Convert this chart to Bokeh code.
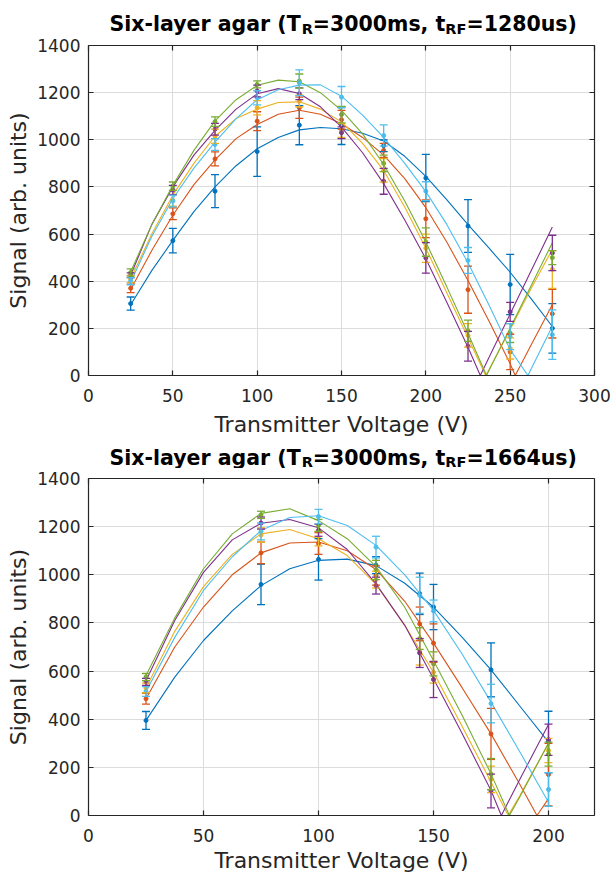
from bokeh.plotting import figure
from bokeh.models import (Range1d, LinearAxis, FixedTicker, Whisker, TeeHead,
                          ColumnDataSource, Label)
from bokeh.layouts import column
from bokeh.embed import file_html
from bokeh.resources import INLINE

# ---------------- data ----------------
SERIES_COLORS = ["#0072BD", "#D95319", "#EDB120", "#7E2F8E", "#77AC30", "#4DBEEE"]

# Panel 1: t_RF = 1280 us
P1_VOLTAGE = [25, 50, 75, 100, 125, 150, 175, 200, 225, 250, 275]
P1_S1 = [305, 572, 782, 950, 1062, 1060, 975, 838, 634, 386, 200]
P1_S1_ERR = [28, 52, 70, 105, 83, 80, 25, 100, 112, 128, 105]
P1_S2 = [370, 686, 919, 1079, 1136, 1085, 955, 665, 364, 100, 262]
P1_S2_ERR = [18, 25, 30, 40, 45, 40, 30, 80, 100, 75, 103]
P1_S3 = [410, 743, 1015, 1136, 1164, 1040, 870, 540, 170, 115, 450]
P1_S3_ERR = [15, 25, 30, 30, 25, 30, 50, 60, 50, 45, 80]
P1_S4 = [425, 787, 1045, 1207, 1195, 1030, 824, 499, 124, 270, 520]
P1_S4_ERR = [10, 20, 25, 25, 25, 25, 55, 65, 63, 40, 75]
P1_S5 = [437, 803, 1077, 1235, 1249, 1107, 900, 566, 190, 180, 500]
P1_S5_ERR = [15, 18, 20, 15, 30, 35, 35, 60, 45, 40, 30]
P1_S6 = [400, 740, 980, 1178, 1242, 1181, 1018, 782, 488, 165, 173]
P1_S6_ERR = [15, 25, 25, 30, 55, 45, 45, 40, 55, 55, 105]

# fitted curves, panel 1 (read at 12.5 V steps) and voltage of each curve's null
P1_FIT_V = [25, 37.5, 50, 62.5, 75, 87.5, 100, 112.5, 125, 137.5, 150, 162.5,
            175, 187.5, 200, 212.5, 225, 237.5, 250, 262.5, 275]
P1_FIT1 = [300, 445, 573, 695, 800, 890, 962, 1010, 1042, 1052, 1047, 1028,
           995, 930, 845, 745, 640, 540, 438, 325, 208]
P1_FIT2 = [365, 530, 680, 810, 915, 1005, 1065, 1108, 1125, 1108, 1068, 1010,
           935, 835, 712, 565, 403, 230, 50, 130, 300]
P1_FIT3 = [410, 600, 765, 900, 1015, 1090, 1130, 1158, 1161, 1130, 1076, 985,
           870, 715, 540, 350, 160, 25, 195, 370, 535]
P1_FIT4 = [425, 640, 800, 935, 1040, 1130, 1195, 1217, 1196, 1140, 1054, 945,
           814, 660, 495, 310, 120, 77, 261, 445, 630]
P1_FIT5 = [440, 640, 807, 955, 1080, 1170, 1231, 1253, 1246, 1200, 1125, 1025,
           895, 740, 566, 375, 178, 22, 202, 382, 563]
P1_FIT6 = [395, 590, 750, 880, 990, 1090, 1170, 1212, 1232, 1233, 1185, 1105,
           1010, 900, 780, 640, 478, 298, 110, 29, 209]
P1_NULLS = [None, 253, 235.5, 232.3, 236, 260.5]

# Panel 2: t_RF = 1664 us
P2_VOLTAGE = [25, 75, 100, 125, 144, 150, 175, 200]
P2_S1 = [395, 960, 1064, 1040, 921, 866, 605, 305]
P2_S1_ERR = [37, 84, 86, 35, 86, 94, 112, 128]
P2_S2 = [485, 1091, 1130, 997, 796, 716, 339, 170]
P2_S2_ERR = [22, 45, 45, 40, 70, 80, 106, 130]
P2_S3 = [530, 1165, 1150, 980, 680, 595, 150, 270]
P2_S3_ERR = [20, 30, 30, 35, 55, 45, 55, 50]
P2_S4 = [555, 1215, 1185, 955, 675, 565, 102, 315]
P2_S4_ERR = [15, 25, 25, 35, 60, 75, 70, 65]
P2_S5 = [575, 1249, 1205, 1020, 735, 630, 172, 255]
P2_S5_ERR = [15, 15, 25, 40, 45, 50, 65, 50]
P2_S6 = [515, 1180, 1242, 1115, 915, 850, 465, 108]
P2_S6_ERR = [20, 35, 30, 45, 75, 45, 80, 70]

P2_FIT_V = [25, 37.5, 50, 62.5, 75, 87.5, 100, 112.5, 125, 137.5, 150, 162.5,
            175, 187.5, 200]
P2_FIT1 = [395, 575, 727, 850, 955, 1025, 1060, 1065, 1038, 965, 866, 740, 605, 455, 305]
P2_FIT2 = [485, 700, 866, 1000, 1091, 1132, 1136, 1100, 1022, 890, 716, 530, 339, 130, 70]
P2_FIT3 = [530, 765, 951, 1085, 1170, 1188, 1150, 1080, 960, 790, 595, 370, 139, 82, 300]
P2_FIT4 = [560, 810, 1010, 1145, 1214, 1230, 1195, 1105, 962, 790, 568, 340, 104, 150, 378]
P2_FIT5 = [582, 820, 1025, 1170, 1255, 1274, 1225, 1150, 1034, 865, 644, 415, 173, 77, 300]
P2_FIT6 = [515, 740, 935, 1075, 1184, 1238, 1245, 1205, 1122, 1000, 852, 670, 471, 265, 55]
P2_NULLS = [None, 195, 182.5, 179.5, 183, None]

Y_TICKS = [0, 200, 400, 600, 800, 1000, 1200, 1400]
P1_X_TICKS = [0, 50, 100, 150, 200, 250, 300]
P2_X_TICKS = [0, 50, 100, 150, 200]

TITLE_MAIN = "Six-layer agar (T"
TITLE_SUB1 = "R"
TITLE_MID = "=3000ms, t"
TITLE_SUB2 = "RF"
P1_TITLE_END = "=1280us)"
P2_TITLE_END = "=1664us)"
X_LABEL = "Transmitter Voltage (V)"
Y_LABEL = "Signal (arb. units)"

FONT = "DejaVu Sans"
DARK = "#262626"
LEFT, RIGHT = 88, 20


def style_axis(ax, ticks, show_labels):
    ax.ticker = FixedTicker(ticks=ticks)
    ax.axis_line_color = DARK
    ax.axis_line_width = 1.2
    ax.major_tick_line_color = DARK
    ax.major_tick_line_width = 1.2
    ax.major_tick_in = 5
    ax.major_tick_out = 0
    ax.minor_tick_line_color = None
    ax.major_label_text_font = FONT
    ax.major_label_text_color = DARK
    if show_labels:
        ax.major_label_text_font_size = "17px"
    else:
        ax.major_label_text_font_size = "1px"
        ax.major_label_text_color = None
        ax.major_label_standoff = 0


def make_title(height, base_y, sub_y, end_text):
    # data coordinates of this strip equal page pixels horizontally
    t = figure(width=614, height=height, x_range=Range1d(LEFT, 614 - RIGHT),
               y_range=Range1d(0, height), output_backend="svg",
               toolbar_location=None, title=None,
               min_border_left=LEFT, min_border_right=RIGHT,
               min_border_top=0, min_border_bottom=0,
               x_axis_type=None, y_axis_type=None)
    t.outline_line_color = None
    t.background_fill_color = "white"
    t.border_fill_color = "white"
    for g in t.grid:
        g.visible = False
    parts = [(TITLE_MAIN, 109.0, "20.5px", base_y),
             (TITLE_SUB1, 301.2, "14.5px", sub_y),
             (TITLE_MID, 312.3, "20.5px", base_y),
             (TITLE_SUB2, 444.8, "14.5px", sub_y),
             (end_text, 466.0, "20.5px", base_y)]
    for txt, x, fs, y in parts:
        t.add_layout(Label(x=x, y=y, text=txt, text_font=FONT,
                           text_font_style="bold", text_font_size=fs,
                           text_color="black", text_align="left",
                           text_baseline="alphabetic"))
    return t


def make_panel(height, xmax, xticks, top, bottom, lab_gap, voltage, series,
               errs, fit_v, fits, nulls):
    p = figure(width=614, height=height, x_range=Range1d(0, xmax),
               y_range=Range1d(0, 1400), output_backend="svg",
               toolbar_location=None, title=None,
               min_border_left=LEFT, min_border_right=RIGHT,
               min_border_top=top, min_border_bottom=bottom)
    p.outline_line_color = None
    p.background_fill_color = "white"
    p.border_fill_color = "white"

    style_axis(p.xaxis[0], xticks, True)
    style_axis(p.yaxis[0], Y_TICKS, True)
    p.xaxis.major_label_standoff = 13
    p.yaxis.major_label_standoff = 8
    p.xaxis.axis_label = X_LABEL
    p.yaxis.axis_label = Y_LABEL
    for ax in (p.xaxis[0], p.yaxis[0]):
        ax.axis_label_text_font = FONT
        ax.axis_label_text_font_size = "22px"
        ax.axis_label_text_font_style = "normal"
        ax.axis_label_text_color = DARK
    p.xaxis.axis_label_standoff = lab_gap
    p.yaxis.axis_label_standoff = 3

    right_ax = LinearAxis()
    style_axis(right_ax, Y_TICKS, False)
    p.add_layout(right_ax, "right")
    top_ax = LinearAxis()
    style_axis(top_ax, xticks, False)
    p.add_layout(top_ax, "above")

    p.xgrid.ticker = FixedTicker(ticks=xticks)
    p.ygrid.ticker = FixedTicker(ticks=Y_TICKS)
    for g in (p.xgrid[0], p.ygrid[0]):
        g.grid_line_color = "#dcdcdc"
        g.grid_line_width = 1

    for i, color in enumerate(SERIES_COLORS):
        vals = series[i]
        err = errs[i]
        src = ColumnDataSource(dict(
            x=voltage, y=vals,
            upper=[v + e for v, e in zip(vals, err)],
            lower=[v - e for v, e in zip(vals, err)]))
        w = Whisker(base="x", upper="upper", lower="lower", source=src,
                    line_color=color, line_width=1.3,
                    upper_head=TeeHead(size=8, line_color=color, line_width=1.3),
                    lower_head=TeeHead(size=8, line_color=color, line_width=1.3))
        w.level = "glyph"
        p.add_layout(w)
        p.scatter("x", "y", source=src, size=4, color=color)

        fx = list(fit_v)
        fy = list(fits[i])
        if nulls[i] is not None:
            pairs = sorted(zip(fx + [nulls[i]], fy + [0]))
            fx = [a for a, _ in pairs]
            fy = [b for _, b in pairs]
        p.line(fx, fy, line_color=color, line_width=1.1)
    return p


t1 = make_title(35, 12, 7, P1_TITLE_END)
p1 = make_panel(407, 300, P1_X_TICKS, 10, 67, 7, P1_VOLTAGE,
                [P1_S1, P1_S2, P1_S3, P1_S4, P1_S5, P1_S6],
                [P1_S1_ERR, P1_S2_ERR, P1_S3_ERR, P1_S4_ERR, P1_S5_ERR, P1_S6_ERR],
                P1_FIT_V, [P1_FIT1, P1_FIT2, P1_FIT3, P1_FIT4, P1_FIT5, P1_FIT6],
                P1_NULLS)
t2 = make_title(26, 11, 7, P2_TITLE_END)
p2 = make_panel(407, 220, P2_X_TICKS, 10, 60, 3, P2_VOLTAGE,
                [P2_S1, P2_S2, P2_S3, P2_S4, P2_S5, P2_S6],
                [P2_S1_ERR, P2_S2_ERR, P2_S3_ERR, P2_S4_ERR, P2_S5_ERR, P2_S6_ERR],
                P2_FIT_V, [P2_FIT1, P2_FIT2, P2_FIT3, P2_FIT4, P2_FIT5, P2_FIT6],
                P2_NULLS)

layout = column(t1, p1, t2, p2, spacing=0)
open("out.html", "w").write(file_html(layout, INLINE))
